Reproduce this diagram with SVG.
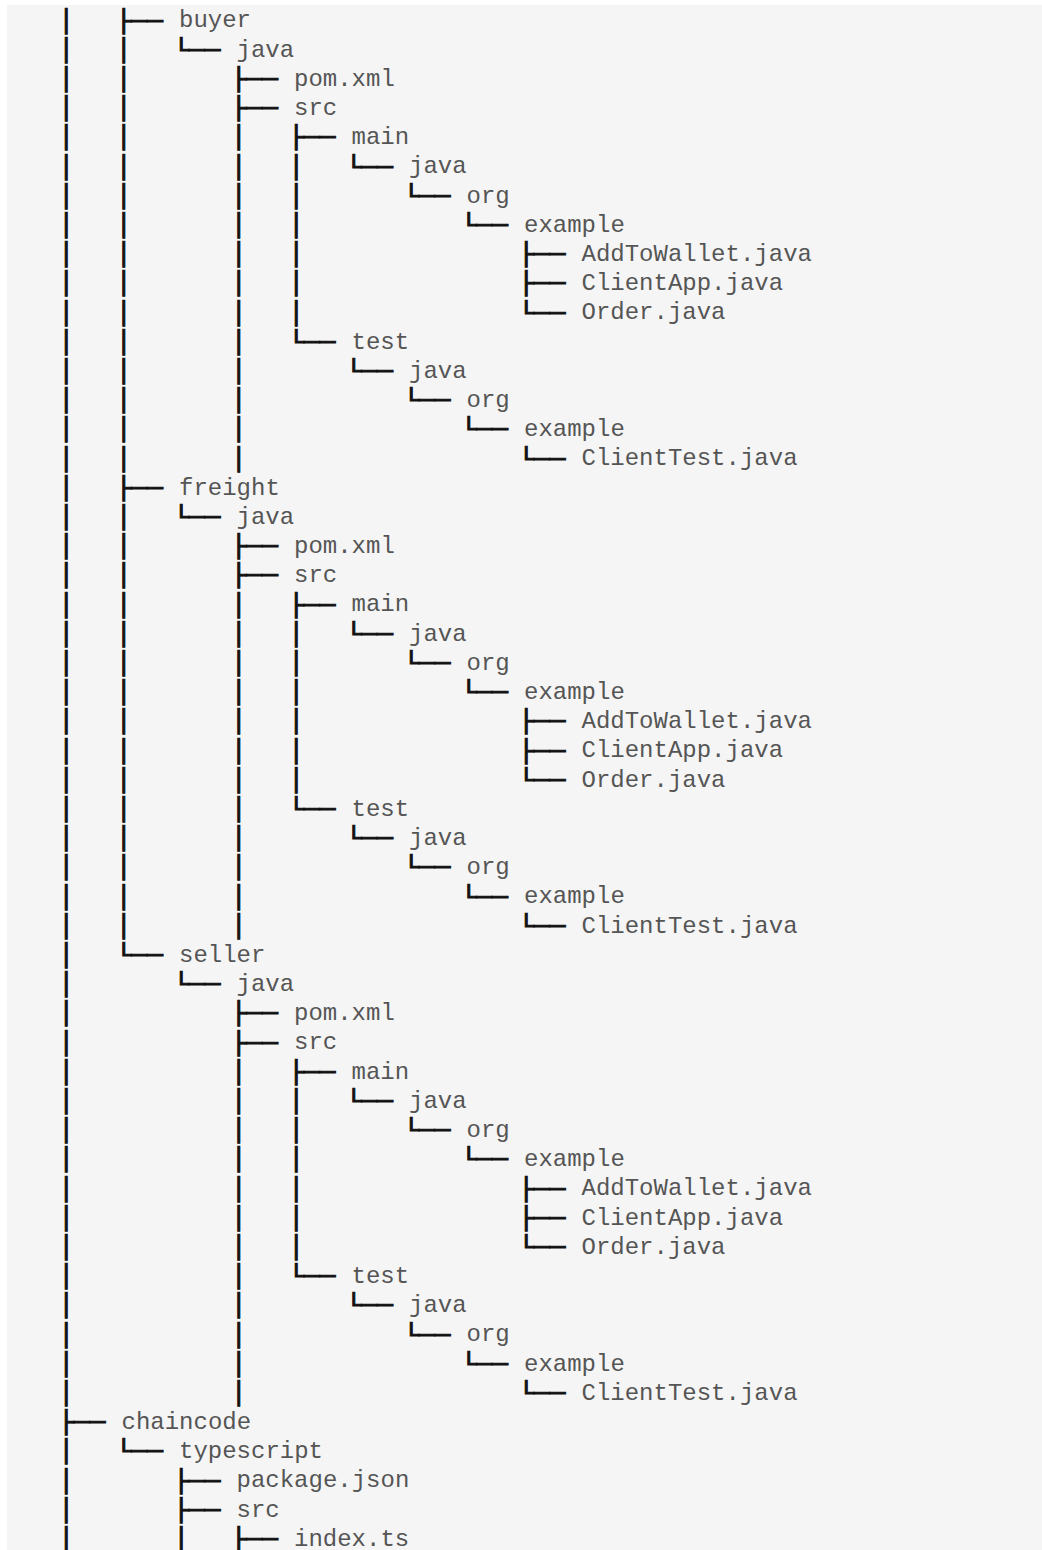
<svg xmlns="http://www.w3.org/2000/svg" width="1042" height="1550" viewBox="0 0 1042 1550">
<style>
.g{font-family:"DejaVu Sans Mono",monospace;font-size:26px;font-weight:bold;fill:#111;stroke:#111;stroke-width:1}
.t{font-family:"Liberation Mono",monospace;font-size:24px;fill:#555}
</style>
<rect x="0" y="0" width="1042" height="1550" fill="#ffffff"/>
<rect x="7" y="5" width="1035" height="1545" fill="#f5f5f5"/>
<g id="connectors" class="g">
<text transform="translate(0,28.5) scale(1,0.85)"><tspan x="58.2">│</tspan><tspan x="115.7">├──</tspan></text>
<text transform="translate(0,57.7) scale(1,0.85)"><tspan x="58.2">│</tspan><tspan x="115.7">│</tspan><tspan x="173.2">└──</tspan></text>
<text transform="translate(0,86.9) scale(1,0.85)"><tspan x="58.2">│</tspan><tspan x="115.7">│</tspan><tspan x="230.7">├──</tspan></text>
<text transform="translate(0,116.1) scale(1,0.85)"><tspan x="58.2">│</tspan><tspan x="115.7">│</tspan><tspan x="230.7">├──</tspan></text>
<text transform="translate(0,145.3) scale(1,0.85)"><tspan x="58.2">│</tspan><tspan x="115.7">│</tspan><tspan x="230.7">│</tspan><tspan x="288.2">├──</tspan></text>
<text transform="translate(0,174.5) scale(1,0.85)"><tspan x="58.2">│</tspan><tspan x="115.7">│</tspan><tspan x="230.7">│</tspan><tspan x="288.2">│</tspan><tspan x="345.7">└──</tspan></text>
<text transform="translate(0,203.7) scale(1,0.85)"><tspan x="58.2">│</tspan><tspan x="115.7">│</tspan><tspan x="230.7">│</tspan><tspan x="288.2">│</tspan><tspan x="403.2">└──</tspan></text>
<text transform="translate(0,232.9) scale(1,0.85)"><tspan x="58.2">│</tspan><tspan x="115.7">│</tspan><tspan x="230.7">│</tspan><tspan x="288.2">│</tspan><tspan x="460.7">└──</tspan></text>
<text transform="translate(0,262.1) scale(1,0.85)"><tspan x="58.2">│</tspan><tspan x="115.7">│</tspan><tspan x="230.7">│</tspan><tspan x="288.2">│</tspan><tspan x="518.2">├──</tspan></text>
<text transform="translate(0,291.3) scale(1,0.85)"><tspan x="58.2">│</tspan><tspan x="115.7">│</tspan><tspan x="230.7">│</tspan><tspan x="288.2">│</tspan><tspan x="518.2">├──</tspan></text>
<text transform="translate(0,320.5) scale(1,0.85)"><tspan x="58.2">│</tspan><tspan x="115.7">│</tspan><tspan x="230.7">│</tspan><tspan x="288.2">│</tspan><tspan x="518.2">└──</tspan></text>
<text transform="translate(0,349.7) scale(1,0.85)"><tspan x="58.2">│</tspan><tspan x="115.7">│</tspan><tspan x="230.7">│</tspan><tspan x="288.2">└──</tspan></text>
<text transform="translate(0,378.9) scale(1,0.85)"><tspan x="58.2">│</tspan><tspan x="115.7">│</tspan><tspan x="230.7">│</tspan><tspan x="345.7">└──</tspan></text>
<text transform="translate(0,408.1) scale(1,0.85)"><tspan x="58.2">│</tspan><tspan x="115.7">│</tspan><tspan x="230.7">│</tspan><tspan x="403.2">└──</tspan></text>
<text transform="translate(0,437.3) scale(1,0.85)"><tspan x="58.2">│</tspan><tspan x="115.7">│</tspan><tspan x="230.7">│</tspan><tspan x="460.7">└──</tspan></text>
<text transform="translate(0,466.5) scale(1,0.85)"><tspan x="58.2">│</tspan><tspan x="115.7">│</tspan><tspan x="230.7">│</tspan><tspan x="518.2">└──</tspan></text>
<text transform="translate(0,495.7) scale(1,0.85)"><tspan x="58.2">│</tspan><tspan x="115.7">├──</tspan></text>
<text transform="translate(0,524.9) scale(1,0.85)"><tspan x="58.2">│</tspan><tspan x="115.7">│</tspan><tspan x="173.2">└──</tspan></text>
<text transform="translate(0,554.1) scale(1,0.85)"><tspan x="58.2">│</tspan><tspan x="115.7">│</tspan><tspan x="230.7">├──</tspan></text>
<text transform="translate(0,583.3) scale(1,0.85)"><tspan x="58.2">│</tspan><tspan x="115.7">│</tspan><tspan x="230.7">├──</tspan></text>
<text transform="translate(0,612.5) scale(1,0.85)"><tspan x="58.2">│</tspan><tspan x="115.7">│</tspan><tspan x="230.7">│</tspan><tspan x="288.2">├──</tspan></text>
<text transform="translate(0,641.7) scale(1,0.85)"><tspan x="58.2">│</tspan><tspan x="115.7">│</tspan><tspan x="230.7">│</tspan><tspan x="288.2">│</tspan><tspan x="345.7">└──</tspan></text>
<text transform="translate(0,670.9) scale(1,0.85)"><tspan x="58.2">│</tspan><tspan x="115.7">│</tspan><tspan x="230.7">│</tspan><tspan x="288.2">│</tspan><tspan x="403.2">└──</tspan></text>
<text transform="translate(0,700.1) scale(1,0.85)"><tspan x="58.2">│</tspan><tspan x="115.7">│</tspan><tspan x="230.7">│</tspan><tspan x="288.2">│</tspan><tspan x="460.7">└──</tspan></text>
<text transform="translate(0,729.3) scale(1,0.85)"><tspan x="58.2">│</tspan><tspan x="115.7">│</tspan><tspan x="230.7">│</tspan><tspan x="288.2">│</tspan><tspan x="518.2">├──</tspan></text>
<text transform="translate(0,758.5) scale(1,0.85)"><tspan x="58.2">│</tspan><tspan x="115.7">│</tspan><tspan x="230.7">│</tspan><tspan x="288.2">│</tspan><tspan x="518.2">├──</tspan></text>
<text transform="translate(0,787.7) scale(1,0.85)"><tspan x="58.2">│</tspan><tspan x="115.7">│</tspan><tspan x="230.7">│</tspan><tspan x="288.2">│</tspan><tspan x="518.2">└──</tspan></text>
<text transform="translate(0,816.9) scale(1,0.85)"><tspan x="58.2">│</tspan><tspan x="115.7">│</tspan><tspan x="230.7">│</tspan><tspan x="288.2">└──</tspan></text>
<text transform="translate(0,846.1) scale(1,0.85)"><tspan x="58.2">│</tspan><tspan x="115.7">│</tspan><tspan x="230.7">│</tspan><tspan x="345.7">└──</tspan></text>
<text transform="translate(0,875.3) scale(1,0.85)"><tspan x="58.2">│</tspan><tspan x="115.7">│</tspan><tspan x="230.7">│</tspan><tspan x="403.2">└──</tspan></text>
<text transform="translate(0,904.5) scale(1,0.85)"><tspan x="58.2">│</tspan><tspan x="115.7">│</tspan><tspan x="230.7">│</tspan><tspan x="460.7">└──</tspan></text>
<text transform="translate(0,933.7) scale(1,0.85)"><tspan x="58.2">│</tspan><tspan x="115.7">│</tspan><tspan x="230.7">│</tspan><tspan x="518.2">└──</tspan></text>
<text transform="translate(0,962.9) scale(1,0.85)"><tspan x="58.2">│</tspan><tspan x="115.7">└──</tspan></text>
<text transform="translate(0,992.1) scale(1,0.85)"><tspan x="58.2">│</tspan><tspan x="173.2">└──</tspan></text>
<text transform="translate(0,1021.3) scale(1,0.85)"><tspan x="58.2">│</tspan><tspan x="230.7">├──</tspan></text>
<text transform="translate(0,1050.5) scale(1,0.85)"><tspan x="58.2">│</tspan><tspan x="230.7">├──</tspan></text>
<text transform="translate(0,1079.7) scale(1,0.85)"><tspan x="58.2">│</tspan><tspan x="230.7">│</tspan><tspan x="288.2">├──</tspan></text>
<text transform="translate(0,1108.9) scale(1,0.85)"><tspan x="58.2">│</tspan><tspan x="230.7">│</tspan><tspan x="288.2">│</tspan><tspan x="345.7">└──</tspan></text>
<text transform="translate(0,1138.1) scale(1,0.85)"><tspan x="58.2">│</tspan><tspan x="230.7">│</tspan><tspan x="288.2">│</tspan><tspan x="403.2">└──</tspan></text>
<text transform="translate(0,1167.3) scale(1,0.85)"><tspan x="58.2">│</tspan><tspan x="230.7">│</tspan><tspan x="288.2">│</tspan><tspan x="460.7">└──</tspan></text>
<text transform="translate(0,1196.5) scale(1,0.85)"><tspan x="58.2">│</tspan><tspan x="230.7">│</tspan><tspan x="288.2">│</tspan><tspan x="518.2">├──</tspan></text>
<text transform="translate(0,1225.7) scale(1,0.85)"><tspan x="58.2">│</tspan><tspan x="230.7">│</tspan><tspan x="288.2">│</tspan><tspan x="518.2">├──</tspan></text>
<text transform="translate(0,1254.9) scale(1,0.85)"><tspan x="58.2">│</tspan><tspan x="230.7">│</tspan><tspan x="288.2">│</tspan><tspan x="518.2">└──</tspan></text>
<text transform="translate(0,1284.1) scale(1,0.85)"><tspan x="58.2">│</tspan><tspan x="230.7">│</tspan><tspan x="288.2">└──</tspan></text>
<text transform="translate(0,1313.3) scale(1,0.85)"><tspan x="58.2">│</tspan><tspan x="230.7">│</tspan><tspan x="345.7">└──</tspan></text>
<text transform="translate(0,1342.5) scale(1,0.85)"><tspan x="58.2">│</tspan><tspan x="230.7">│</tspan><tspan x="403.2">└──</tspan></text>
<text transform="translate(0,1371.7) scale(1,0.85)"><tspan x="58.2">│</tspan><tspan x="230.7">│</tspan><tspan x="460.7">└──</tspan></text>
<text transform="translate(0,1400.9) scale(1,0.85)"><tspan x="58.2">│</tspan><tspan x="230.7">│</tspan><tspan x="518.2">└──</tspan></text>
<text transform="translate(0,1430.1) scale(1,0.85)"><tspan x="58.2">├──</tspan></text>
<text transform="translate(0,1459.3) scale(1,0.85)"><tspan x="58.2">│</tspan><tspan x="115.7">└──</tspan></text>
<text transform="translate(0,1488.5) scale(1,0.85)"><tspan x="58.2">│</tspan><tspan x="173.2">├──</tspan></text>
<text transform="translate(0,1517.7) scale(1,0.85)"><tspan x="58.2">│</tspan><tspan x="173.2">├──</tspan></text>
<text transform="translate(0,1546.9) scale(1,0.85)"><tspan x="58.2">│</tspan><tspan x="173.2">│</tspan><tspan x="230.7">├──</tspan></text>
</g>
<g class="t">
<g id="buyer"><text x="179" y="27.3">buyer</text></g>
<g id="buyer-java"><text x="236.5" y="56.5">java</text></g>
<g id="buyer-pom"><text x="294" y="85.7">pom.xml</text></g>
<g id="buyer-src"><text x="294" y="114.9">src</text></g>
<g id="buyer-main"><text x="351.5" y="144.1">main</text></g>
<g id="buyer-main-java"><text x="409" y="173.3">java</text></g>
<g id="buyer-main-org"><text x="466.5" y="202.5">org</text></g>
<g id="buyer-main-example"><text x="524" y="231.7">example</text></g>
<g id="buyer-addtowallet"><text x="581.5" y="260.9">AddToWallet.java</text></g>
<g id="buyer-clientapp"><text x="581.5" y="290.1">ClientApp.java</text></g>
<g id="buyer-order"><text x="581.5" y="319.3">Order.java</text></g>
<g id="buyer-test"><text x="351.5" y="348.5">test</text></g>
<g id="buyer-test-java"><text x="409" y="377.7">java</text></g>
<g id="buyer-test-org"><text x="466.5" y="406.9">org</text></g>
<g id="buyer-test-example"><text x="524" y="436.1">example</text></g>
<g id="buyer-clienttest"><text x="581.5" y="465.3">ClientTest.java</text></g>
<g id="freight"><text x="179" y="494.5">freight</text></g>
<g id="freight-java"><text x="236.5" y="523.7">java</text></g>
<g id="freight-pom"><text x="294" y="552.9">pom.xml</text></g>
<g id="freight-src"><text x="294" y="582.1">src</text></g>
<g id="freight-main"><text x="351.5" y="611.3">main</text></g>
<g id="freight-main-java"><text x="409" y="640.5">java</text></g>
<g id="freight-main-org"><text x="466.5" y="669.7">org</text></g>
<g id="freight-main-example"><text x="524" y="698.9">example</text></g>
<g id="freight-addtowallet"><text x="581.5" y="728.1">AddToWallet.java</text></g>
<g id="freight-clientapp"><text x="581.5" y="757.3">ClientApp.java</text></g>
<g id="freight-order"><text x="581.5" y="786.5">Order.java</text></g>
<g id="freight-test"><text x="351.5" y="815.7">test</text></g>
<g id="freight-test-java"><text x="409" y="844.9">java</text></g>
<g id="freight-test-org"><text x="466.5" y="874.1">org</text></g>
<g id="freight-test-example"><text x="524" y="903.3">example</text></g>
<g id="freight-clienttest"><text x="581.5" y="932.5">ClientTest.java</text></g>
<g id="seller"><text x="179" y="961.7">seller</text></g>
<g id="seller-java"><text x="236.5" y="990.9">java</text></g>
<g id="seller-pom"><text x="294" y="1020.1">pom.xml</text></g>
<g id="seller-src"><text x="294" y="1049.3">src</text></g>
<g id="seller-main"><text x="351.5" y="1078.5">main</text></g>
<g id="seller-main-java"><text x="409" y="1107.7">java</text></g>
<g id="seller-main-org"><text x="466.5" y="1136.9">org</text></g>
<g id="seller-main-example"><text x="524" y="1166.1">example</text></g>
<g id="seller-addtowallet"><text x="581.5" y="1195.3">AddToWallet.java</text></g>
<g id="seller-clientapp"><text x="581.5" y="1224.5">ClientApp.java</text></g>
<g id="seller-order"><text x="581.5" y="1253.7">Order.java</text></g>
<g id="seller-test"><text x="351.5" y="1282.9">test</text></g>
<g id="seller-test-java"><text x="409" y="1312.1">java</text></g>
<g id="seller-test-org"><text x="466.5" y="1341.3">org</text></g>
<g id="seller-test-example"><text x="524" y="1370.5">example</text></g>
<g id="seller-clienttest"><text x="581.5" y="1399.7">ClientTest.java</text></g>
<g id="chaincode"><text x="121.5" y="1428.9">chaincode</text></g>
<g id="typescript"><text x="179" y="1458.1">typescript</text></g>
<g id="package-json"><text x="236.5" y="1487.3">package.json</text></g>
<g id="ts-src"><text x="236.5" y="1516.5">src</text></g>
<g id="index-ts"><text x="294" y="1545.7">index.ts</text></g>
</g>
</svg>
